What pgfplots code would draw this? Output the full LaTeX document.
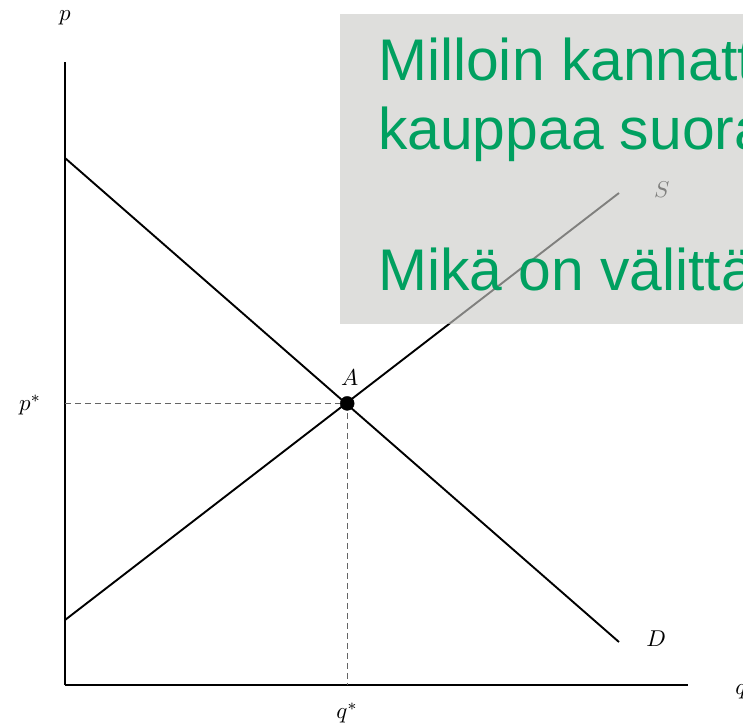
\documentclass[border=0pt]{standalone}
\usepackage{pgfplots}
\pgfplotsset{compat=1.18}
\usepackage{fontspec}
\newfontfamily\arialfont{Liberation Sans}
\definecolor{boxgray}{RGB}{203,203,200}
\definecolor{txtgreen}{RGB}{0,160,96}
\definecolor{dashgray}{RGB}{100,100,100}
\begin{document}
\begin{tikzpicture}
\useasboundingbox (0,0) rectangle (743bp,728bp);
\begin{axis}[
  at={(65bp,43bp)}, anchor=south west,
  scale only axis, width=623bp, height=623bp,
  xmin=0, xmax=10, ymin=0, ymax=10,
  axis lines=left,
  axis line style={-, line width=2.3bp},
  xtick=\empty, ytick=\empty,
  clip=false,
]
% demand
\addplot[black, line width=1.9bp] coordinates {(0,8.459) (8.892,0.690)};
% supply
\addplot[black, line width=1.9bp] coordinates {(0,1.043) (8.892,7.897)};
% dashed guides
\addplot[dashgray, line width=1bp, dash pattern=on 6bp off 4bp] coordinates {(0,4.52) (4.53,4.52)};
\addplot[dashgray, line width=1bp, dash pattern=on 6bp off 4bp] coordinates {(4.53,4.52) (4.53,0)};
% equilibrium point
\addplot[only marks, mark=*, mark size=7bp, black] coordinates {(4.53,4.52)};
\node[scale=2.3] at (axis cs:0,10.71) {$p$};
\node[scale=2.3] at (axis cs:-0.56,4.49) {$p^*$};
\node[scale=2.3] at (axis cs:4.53,-0.45) {$q^*$};
\node[scale=2.3] at (axis cs:10.85,-0.11) {$q$};
\node[scale=2.3] at (axis cs:9.49,0.75) {$D$};
\node[scale=2.3] at (axis cs:9.58,7.95) {$S$};
\node[scale=2.3] at (axis cs:4.57,4.94) {$A$};
\end{axis}
\begin{scope}
\clip (0,0) rectangle (743bp,728bp);
\fill[boxgray, fill opacity=0.63] (340bp,714bp) rectangle (760bp,404bp);
\begin{scope}[every node/.style={inner sep=0pt, anchor=base west, text=txtgreen, font=\arialfont\fontsize{59}{68}\selectfont}]
\node at (378bp,647bp) {Milloin kannattaa};
\node at (378bp,578bp) {kauppaa suoraan?};
\node at (378bp,437bp) {Mikä on välittäjän rooli?};
\end{scope}
\end{scope}
\end{tikzpicture}
\end{document}
